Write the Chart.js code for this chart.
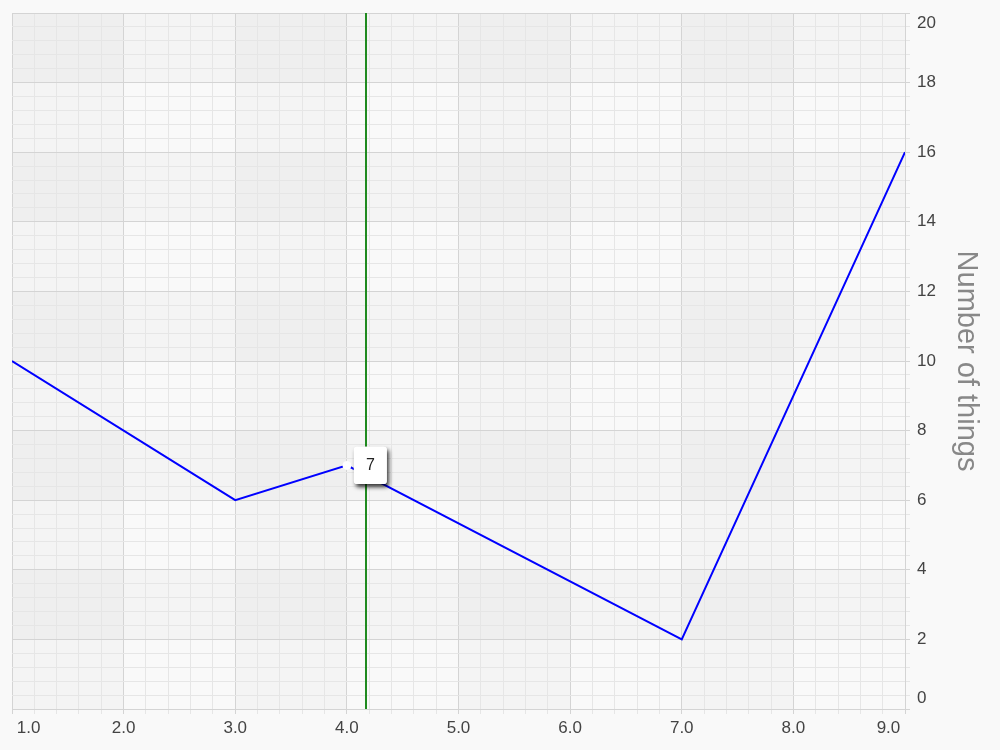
<!DOCTYPE html>
<html>
<head>
<meta charset="utf-8">
<script src="https://cdn.jsdelivr.net/npm/chart.js@4.4.1/dist/chart.umd.min.js"></script>
<style>
  html, body { margin: 0; padding: 0; background: #f9f9f9; }
  #wrap { width: 1000px; height: 750px; }
</style>
</head>
<body>
<div id="wrap"><canvas id="thingsChart" width="1000" height="750"></canvas></div>
<script>
// dados do gráfico
const xValues = [1, 3, 4, 7, 9];
const yValues = [10, 6, 7, 2, 16];
const xRange = [1, 9];
const yRange = [0, 20];
const markerX = 4.17;      // linha verde vertical
const hoverIndex = 2;      // ponto com o tooltip (4, 7)
const yTitle = 'Number of things';

const FONT = '"Liberation Sans", Arial, sans-serif';
const majorGrid = '#d4d4d4';
const minorGrid = '#e6e6e6';

function isMajor(v, step) {
    const r = v / step;
    return Math.abs(r - Math.round(r)) < 1e-6;
}

// faixas alternadas no fundo
const bandsPlugin = {
    id: 'bands',
    beforeDraw(chart) {
        const ctx = chart.ctx;
        const xs = chart.scales.x, ys = chart.scales.y;
        const area = chart.chartArea;
        ctx.save();
        ctx.fillStyle = '#f9f9f9';
        ctx.fillRect(0, 0, chart.width, chart.height);
        ctx.fillStyle = 'rgba(0,0,0,0.018)';
        for (let v = xRange[0]; v < xRange[1]; v += 2) {
            const a = xs.getPixelForValue(v), b = xs.getPixelForValue(v + 1);
            ctx.fillRect(a, area.top, b - a, area.bottom - area.top);
        }
        for (let v = yRange[0] + 2; v < yRange[1]; v += 4) {
            const a = ys.getPixelForValue(v + 2), b = ys.getPixelForValue(v);
            ctx.fillRect(area.left, a, area.right - area.left, b - a);
        }
        ctx.restore();
    }
};

// linha vertical verde
const markerPlugin = {
    id: 'marker',
    afterDatasetsDraw(chart) {
        const ctx = chart.ctx;
        const area = chart.chartArea;
        const px = Math.round(chart.scales.x.getPixelForValue(markerX));
        ctx.save();
        ctx.strokeStyle = '#1f8a1f';
        ctx.lineWidth = 2;
        ctx.beginPath();
        ctx.moveTo(px, area.top);
        ctx.lineTo(px, area.bottom);
        ctx.stroke();
        ctx.restore();
    }
};

// sombra do tooltip
const tooltipShadow = {
    id: 'tooltipShadow',
    beforeTooltipDraw(chart, args) {
        const tt = args.tooltip;
        if (!tt.opacity) return;
        const ctx = chart.ctx;
        ctx.save();
        ctx.shadowColor = 'rgba(0,0,0,0.8)';
        ctx.shadowBlur = 4;
        ctx.shadowOffsetX = 2;
        ctx.shadowOffsetY = 3;
        ctx.fillStyle = '#fff';
        ctx.beginPath();
        ctx.roundRect(tt.x, tt.y, tt.width, tt.height, 3);
        ctx.fill();
        ctx.restore();
    }
};

const chart = new Chart(document.getElementById('thingsChart'), {
    type: 'line',
    data: {
        datasets: [{
            data: xValues.map((x, i) => ({ x: x, y: yValues[i] })),
            borderColor: '#0000ff',
            borderWidth: 2,
            pointRadius: 0,
            pointHoverRadius: 4,
            pointHoverBackgroundColor: '#fff',
            pointHoverBorderColor: '#fff',
            pointHoverBorderWidth: 1,
            tension: 0,
            fill: false
        }]
    },
    options: {
        responsive: false,
        animation: false,
        events: [],
        layout: { padding: { left: 12, top: 13, right: 0, bottom: 0 } },
        plugins: {
            legend: { display: false },
            tooltip: {
                backgroundColor: '#fff',
                bodyColor: '#222',
                bodyFont: { family: FONT, size: 16 },
                padding: { x: 12, y: 9 },
                cornerRadius: 3,
                displayColors: false,
                caretSize: 0,
                caretPadding: 7,
                xAlign: 'left',
                yAlign: 'center',
                callbacks: {
                    title: () => '',
                    label: c => String(c.parsed.y)
                }
            }
        },
        scales: {
            x: {
                type: 'linear',
                min: xRange[0],
                max: xRange[1],
                afterFit(s) { s.height = 41; s.paddingLeft = 0; s.paddingRight = 0; },
                border: { color: majorGrid },
                grid: {
                    color: c => (c.tick && isMajor(c.tick.value, 1)) ? majorGrid : minorGrid,
                    tickLength: 5
                },
                ticks: {
                    stepSize: 0.2,
                    autoSkip: false,
                    maxRotation: 0,
                    align: 'inner',
                    padding: 4,
                    color: '#444',
                    font: { family: FONT, size: 17 },
                    callback: v => {
                        if (!isMajor(v, 1)) return '';
                        const s = v.toFixed(1);
                        // rótulos das pontas ficam um pouco para dentro
                        if (v === xRange[0]) return ' ' + s;
                        if (v === xRange[1]) return s + ' ';
                        return s;
                    }
                }
            },
            y: {
                position: 'right',
                min: yRange[0],
                max: yRange[1],
                afterFit(s) { s.width = 95; s.paddingTop = 0; s.paddingBottom = 0; },
                border: { color: majorGrid },
                grid: {
                    color: c => (c.tick && isMajor(c.tick.value, 2)) ? majorGrid : minorGrid,
                    tickLength: 5
                },
                ticks: {
                    stepSize: 0.4,
                    autoSkip: false,
                    padding: 7,
                    color: '#444',
                    font: { family: FONT, size: 17 },
                    callback: v => {
                        if (!isMajor(v, 2)) return '';
                        const s = String(Math.round(v));
                        if (v === yRange[1]) return ['', s];
                        if (v === yRange[0]) return [s, ''];
                        return s;
                    }
                },
                title: {
                    display: true,
                    text: yTitle,
                    color: '#888',
                    font: { family: FONT, size: 29 },
                    padding: { top: 17, bottom: 0 }
                }
            }
        }
    },
    plugins: [bandsPlugin, markerPlugin, tooltipShadow]
});

// ativar o ponto e o tooltip
const active = [{ datasetIndex: 0, index: hoverIndex }];
chart.setActiveElements(active);
chart.tooltip.setActiveElements(active, { x: 0, y: 0 });
chart.update();
</script>
</body>
</html>
